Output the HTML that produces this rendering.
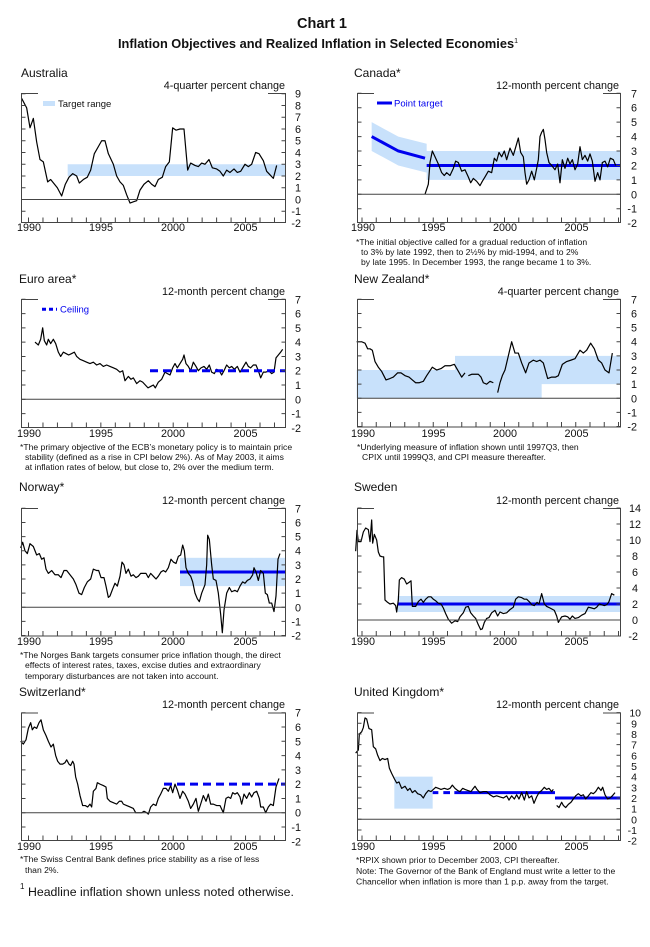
<!DOCTYPE html>
<html><head><meta charset="utf-8"><style>
body{margin:0;background:#fff}
svg{display:block}
text{font-family:"Liberation Sans",Arial,sans-serif;fill:#111}
.t{font-size:12px}
.s{font-size:10.8px}
.tl{font-size:10.8px}
.fn{font-size:8.6px}
.fr{fill:none;stroke:#444;stroke-width:1}
.z{stroke:#444;stroke-width:1}
.tk{stroke:#444;fill:none}
.ser{fill:none;stroke:#000;stroke-width:1.2;stroke-linejoin:round}
.band{fill:#c8e1fb}
.bl{fill:none;stroke:#0000ee;stroke-width:3}
.bd{fill:none;stroke:#0000ee;stroke-width:3;stroke-dasharray:8 5}
</style></head><body>
<svg width="650" height="947" viewBox="0 0 650 947" xmlns="http://www.w3.org/2000/svg">
<text x="322" y="28" text-anchor="middle" style="font-size:14.5px;font-weight:bold">Chart 1</text>
<text x="318" y="48" text-anchor="middle" style="font-size:12.8px;font-weight:bold">Inflation Objectives and Realized Inflation in Selected Economies<tspan dy="-5" style="font-size:7px;font-weight:normal">1</tspan></text>

<!-- ===== AUSTRALIA ===== -->
<g transform="translate(0,199.5) scale(0.33333,-11.75)">
<rect class="band" x="203" y="2" width="655" height="1"/>
<polyline class="ser" vector-effect="non-scaling-stroke" points="65,8.6 80,7.8 90,6.1 100,6.9 110,4.9 120,3.4 130,3.2 143,1.5 152,1.7 172,1.0 185,0.3 196,1.3 207,1.9 218,2.2 230,2.0 238,1.4 250,1.7 262,1.9 272,2.5 283,3.9 295,4.5 305,5.0 315,5.0 325,3.9 340,3.0 350,2.0 360,1.5 370,1.2 380,0.4 390,-0.3 400,-0.2 410,-0.1 420,0.8 432,1.3 445,1.6 455,1.3 465,1.1 475,1.7 487,1.9 497,2.8 508,3.2 518,6.1 528,5.9 540,6.0 552,6.0 563,2.5 572,3.1 585,2.9 595,2.8 605,3.1 615,3.0 627,3.4 637,2.7 650,2.6 660,2.4 670,2.0 680,2.5 690,2.3 702,2.6 712,2.3 722,2.4 735,3.0 745,2.8 755,3.0 767,4.0 777,3.9 790,3.3 800,2.4 810,2.1 820,1.8 830,2.9"/>
</g>
<line class="z" x1="21" x2="286" y1="199.5" y2="199.5"/>
<path class="fr" d="M38,93.5H21.5V222.5H285.5V93.5H268"/>
<line class="tk" x1="28" x2="286" y1="220" y2="220" stroke-width="5" stroke-dasharray="1 13.47"/>
<line class="tk" x1="23.5" x2="23.5" y1="93.2" y2="223" stroke-width="4" stroke-dasharray="1 10.75"/>
<line class="tk" x1="283.5" x2="283.5" y1="93.2" y2="223" stroke-width="4" stroke-dasharray="1 10.75"/>
<rect class="band" x="43" y="101" width="12" height="5"/>
<text class="s" x="58" y="107" style="font-size:9.5px">Target range</text>
<text class="t" x="21" y="77">Australia</text>
<text class="s" x="285" y="89" text-anchor="end">4-quarter percent change</text>
<text class="tl" text-anchor="end"><tspan x="301" y="97.7">9</tspan><tspan x="301" y="109.5">8</tspan><tspan x="301" y="121.2">7</tspan><tspan x="301" y="133">6</tspan><tspan x="301" y="144.7">5</tspan><tspan x="301" y="156.5">4</tspan><tspan x="301" y="168.2">3</tspan><tspan x="301" y="180">2</tspan><tspan x="301" y="191.7">1</tspan><tspan x="301" y="203.5">0</tspan><tspan x="301" y="215.2">-1</tspan><tspan x="301" y="227">-2</tspan></text>
<text class="tl" text-anchor="middle"><tspan x="29" y="231">1990</tspan><tspan x="101" y="231">1995</tspan><tspan x="173" y="231">2000</tspan><tspan x="245.5" y="231">2005</tspan></text>

<!-- ===== CANADA ===== -->
<g transform="translate(325,194.3) scale(0.33333,-14.43)">
<polygon class="band" points="140,3 220,2 305,1.5 305,1 885,1 885,3 305,3 305,3.5 220,4 140,5"/>
<polyline class="bl" vector-effect="non-scaling-stroke" points="140,4 220,3 300,2.5"/>
<polyline class="bl" vector-effect="non-scaling-stroke" points="305,2 885,2"/>
<polyline class="ser" vector-effect="non-scaling-stroke" points="300,0 310,0.7 315,2.2 322,3.0 330,2.6 340,2.1 350,1.5 358,1.3 365,1.5 375,1.3 385,1.8 392,2.3 400,2.2 410,1.6 420,1.7 430,1.2 437,0.8 445,1.1 455,0.9 465,0.6 472,0.9 480,1.2 490,1.6 500,1.5 508,2.5 515,2.3 522,2.9 530,2.6 538,3.0 545,2.4 555,3.2 565,2.7 575,3.5 580,3.9 587,2.9 595,2.6 600,1.5 605,0.7 612,1.0 620,1.6 628,1.0 635,1.8 640,2.4 645,4.0 650,4.3 655,4.5 660,3.8 665,2.9 672,2.2 680,2.0 690,1.7 698,2.1 705,0.8 712,2.4 720,1.8 728,2.5 735,2.1 742,2.4 750,1.7 758,2.1 765,3.3 772,2.4 780,2.7 788,2.3 795,2.8 802,2.3 810,0.9 818,1.5 825,1.0 832,2.2 840,2.3 848,1.9 856,2.5 865,2.4 872,2.0"/>
</g>
<line class="z" x1="357" x2="621" y1="194.3" y2="194.3"/>
<path class="fr" d="M374,93.5H357.5V222.5H620.5V93.5H603"/>
<line class="tk" x1="361.5" x2="621" y1="220" y2="220" stroke-width="5" stroke-dasharray="1 13.25"/>
<line class="tk" x1="359.5" x2="359.5" y1="92.8" y2="223" stroke-width="4" stroke-dasharray="1 13.43"/>
<line class="tk" x1="618.5" x2="618.5" y1="92.8" y2="223" stroke-width="4" stroke-dasharray="1 13.43"/>
<line class="bl" x1="377" x2="392" y1="103" y2="103"/>
<text class="s" x="394" y="106.5" style="font-size:9.5px;fill:#0000ee">Point target</text>
<text class="t" x="354" y="77">Canada*</text>
<text class="s" x="619" y="89" text-anchor="end">12-month percent change</text>
<text class="tl" text-anchor="end"><tspan x="637" y="97.3">7</tspan><tspan x="637" y="111.7">6</tspan><tspan x="637" y="126.1">5</tspan><tspan x="637" y="140.6">4</tspan><tspan x="637" y="155">3</tspan><tspan x="637" y="169.4">2</tspan><tspan x="637" y="183.9">1</tspan><tspan x="637" y="198.3">0</tspan><tspan x="637" y="212.7">-1</tspan><tspan x="637" y="227.2">-2</tspan></text>
<text class="tl" text-anchor="middle"><tspan x="363" y="231">1990</tspan><tspan x="433.5" y="231">1995</tspan><tspan x="505" y="231">2000</tspan><tspan x="576.5" y="231">2005</tspan></text>
<text class="fn"><tspan x="356" y="245">*The initial objective called for a gradual reduction of inflation</tspan><tspan x="361" y="255">to 3% by late 1992, then to 2½% by mid-1994, and to 2%</tspan><tspan x="361" y="265">by late 1995. In December 1993, the range became 1 to 3%.</tspan></text>

<!-- ===== EURO ===== -->
<g transform="translate(0,399.3) scale(0.33333,-14.29)">
<polyline class="ser" vector-effect="non-scaling-stroke" points="105,4.0 110,3.9 115,3.8 122,4.2 128,5.0 133,4.1 140,3.8 145,4.2 152,3.9 160,4.2 167,3.9 175,3.3 182,3.0 190,3.3 198,3.2 206,3.1 215,3.2 223,3.3 230,3.0 240,2.8 250,2.7 260,2.6 270,2.5 280,2.6 290,2.4 300,2.5 310,2.3 320,2.4 330,2.3 340,2.2 350,2.1 360,1.9 368,2.0 375,1.3 385,1.6 393,1.4 400,1.5 410,1.1 420,1.3 428,1.2 436,1.0 444,0.8 452,0.9 460,1.0 466,0.8 475,1.2 485,1.4 495,1.9 502,1.8 510,1.7 518,2.2 525,2.5 532,2.2 540,2.5 548,2.8 552,3.1 558,2.5 565,2.3 572,2.0 580,2.6 588,2.3 595,2.0 603,2.2 612,2.3 620,2.1 628,2.4 635,1.9 643,1.8 650,2.1 658,2.0 665,1.7 672,2.0 680,2.4 688,2.2 695,2.3 703,2.1 712,2.3 720,1.9 728,2.2 738,2.6 745,2.3 752,2.2 760,2.4 768,2.4 775,2.0 782,1.5 790,1.9 798,1.9 806,2.0 815,1.8 822,1.9 828,2.9 835,3.1 842,3.3 848,3.5"/>
<polyline class="bd" vector-effect="non-scaling-stroke" points="450,2 858,2"/>
</g>
<line class="z" x1="21" x2="286" y1="399.3" y2="399.3"/>
<path class="fr" d="M38,299.5H21.5V427.5H285.5V299.5H268"/>
<line class="tk" x1="28" x2="286" y1="425" y2="425" stroke-width="5" stroke-dasharray="1 13.47"/>
<line class="tk" x1="23.5" x2="23.5" y1="298.8" y2="428" stroke-width="4" stroke-dasharray="1 13.29"/>
<line class="tk" x1="283.5" x2="283.5" y1="298.8" y2="428" stroke-width="4" stroke-dasharray="1 13.29"/>
<line class="bd" x1="42" x2="57" y1="309.3" y2="309.3" style="stroke-dasharray:4 3"/>
<text class="s" x="60" y="312.5" style="font-size:9.5px;fill:#0000ee">Ceiling</text>
<text class="t" x="19" y="283">Euro area*</text>
<text class="s" x="285" y="295" text-anchor="end">12-month percent change</text>
<text class="tl" text-anchor="end"><tspan x="301" y="303.3">7</tspan><tspan x="301" y="317.6">6</tspan><tspan x="301" y="331.9">5</tspan><tspan x="301" y="346.1">4</tspan><tspan x="301" y="360.4">3</tspan><tspan x="301" y="374.7">2</tspan><tspan x="301" y="389">1</tspan><tspan x="301" y="403.3">0</tspan><tspan x="301" y="417.6">-1</tspan><tspan x="301" y="431.9">-2</tspan></text>
<text class="tl" text-anchor="middle"><tspan x="29" y="437">1990</tspan><tspan x="101" y="437">1995</tspan><tspan x="173" y="437">2000</tspan><tspan x="245.5" y="437">2005</tspan></text>
<text class="fn"><tspan x="20" y="450">*The primary objective of the ECB’s monetary policy is to maintain price</tspan><tspan x="25" y="460">stability (defined as a rise in CPI below 2%).  As of May 2003, it aims</tspan><tspan x="25" y="470">at inflation rates of below, but close to, 2% over the medium term.</tspan></text>

<!-- ===== NEW ZEALAND ===== -->
<g transform="translate(325,398.3) scale(0.33333,-14.14)">
<polygon class="band" points="95,0 650,0 650,1 885,1 885,3 390,3 390,2 95,2"/>
<polyline class="ser" vector-effect="non-scaling-stroke" points="95,4.0 110,4.0 120,3.9 128,3.5 135,3.5 142,3.4 150,2.6 160,2.2 170,1.9 183,1.3 195,1.4 205,1.5 218,1.8 228,1.8 240,1.6 252,1.5 262,1.3 272,1.1 283,1.1 295,1.2 305,1.6 322,2.2 335,2.0 348,2.1 360,2.3 375,2.3 388,2.4 398,2.0 410,1.5 420,1.8"/>
<polyline class="ser" vector-effect="non-scaling-stroke" points="430,1.6 440,1.7 460,1.7 468,1.5 475,1.1 485,1.0 495,1.2 505,1.1"/>
<polyline class="ser" vector-effect="non-scaling-stroke" points="518,0.4 525,1.1 532,1.6 540,2.0 550,3.0 560,4.0 570,3.2 580,3.2 590,2.5 602,1.8 612,2.5 625,2.7 635,2.6 645,2.7 655,2.5 668,1.4 680,1.5 692,1.5 700,1.6 712,2.4 725,2.6 738,2.7 750,2.8 765,3.4 775,3.2 785,3.4 797,3.9 808,3.5 820,2.7 830,2.5 840,2.0 852,1.8 862,3.2"/>
</g>
<line class="z" x1="357" x2="621" y1="398.3" y2="398.3"/>
<path class="fr" d="M374,299.5H357.5V427H620.5V299.5H603"/>
<line class="tk" x1="361.5" x2="621" y1="424.5" y2="424.5" stroke-width="5" stroke-dasharray="1 13.25"/>
<line class="tk" x1="359.5" x2="359.5" y1="298.8" y2="427.5" stroke-width="4" stroke-dasharray="1 13.14"/>
<line class="tk" x1="618.5" x2="618.5" y1="298.8" y2="427.5" stroke-width="4" stroke-dasharray="1 13.14"/>
<text class="t" x="354" y="283">New Zealand*</text>
<text class="s" x="619" y="295" text-anchor="end">4-quarter percent change</text>
<text class="tl" text-anchor="end"><tspan x="637" y="303.3">7</tspan><tspan x="637" y="317.5">6</tspan><tspan x="637" y="331.6">5</tspan><tspan x="637" y="345.7">4</tspan><tspan x="637" y="359.9">3</tspan><tspan x="637" y="374">2</tspan><tspan x="637" y="388.2">1</tspan><tspan x="637" y="402.3">0</tspan><tspan x="637" y="416.4">-1</tspan><tspan x="637" y="430.6">-2</tspan></text>
<text class="tl" text-anchor="middle"><tspan x="363" y="437">1990</tspan><tspan x="433.5" y="437">1995</tspan><tspan x="505" y="437">2000</tspan><tspan x="576.5" y="437">2005</tspan></text>
<text class="fn"><tspan x="357" y="450">*Underlying measure of inflation shown until 1997Q3, then</tspan><tspan x="362" y="460">CPIX until 1999Q3, and CPI measure thereafter.</tspan></text>

<!-- ===== NORWAY ===== -->
<g transform="translate(0,607.3) scale(0.33333,-14.14)">
<rect class="band" x="540" y="1.5" width="318" height="2"/>
<polyline class="bl" vector-effect="non-scaling-stroke" points="540,2.5 858,2.5"/>
<polyline class="ser" vector-effect="non-scaling-stroke" points="62,4.2 68,4.6 75,4.0 82,3.8 90,4.5 100,4.3 110,3.7 118,3.8 125,3.4 132,3.5 138,2.7 145,2.4 155,2.6 165,2.3 175,2.3 183,2.1 192,2.6 200,2.6 210,2.3 220,2.0 228,1.6 237,1.0 245,0.9 253,1.4 262,1.8 272,2.0 280,2.7 290,2.6 296,2.6 303,2.1 312,2.1 318,1.5 325,0.7 330,0.8 338,1.3 345,1.7 352,1.5 360,2.2 366,3.2 372,3.0 378,2.4 385,2.7 393,2.2 400,2.3 408,2.1 415,2.2 422,2.4 430,2.4 438,2.4 445,2.1 452,2.4 460,2.2 468,2.0 475,2.2 483,2.5 490,2.6 497,2.5 505,2.8 513,3.4 520,3.2 528,3.1 535,3.6 542,3.7 548,4.4 553,4.0 558,2.8 565,2.4 572,2.2 578,1.8 585,1.0 592,0.6 598,0.4 605,1.0 610,1.3 615,1.6 620,3.0 623,5.1 628,4.8 635,3.0 640,2.0 648,1.9 655,1.0 662,-0.5 667,-1.8 672,-0.2 680,1.0 688,1.4 695,1.1 705,1.2 712,1.1 720,1.5 728,1.8 735,1.7 742,1.9 750,2.0 758,2.3 762,2.8 768,2.5 775,1.9 782,2.6 790,2.4 796,1.0 802,0.9 808,0.3 815,0.3 822,-0.3 828,0.8 834,3.4 840,3.8"/>
</g>
<line class="z" x1="21" x2="286" y1="607.3" y2="607.3"/>
<path class="fr" d="M38,508.5H21.5V636H285.5V508.5H268"/>
<line class="tk" x1="28" x2="286" y1="633.5" y2="633.5" stroke-width="5" stroke-dasharray="1 13.47"/>
<line class="tk" x1="23.5" x2="23.5" y1="507.8" y2="636.5" stroke-width="4" stroke-dasharray="1 13.14"/>
<line class="tk" x1="283.5" x2="283.5" y1="507.8" y2="636.5" stroke-width="4" stroke-dasharray="1 13.14"/>
<text class="t" x="19" y="491">Norway*</text>
<text class="s" x="285" y="504" text-anchor="end">12-month percent change</text>
<text class="tl" text-anchor="end"><tspan x="301" y="512.3">7</tspan><tspan x="301" y="526.5">6</tspan><tspan x="301" y="540.6">5</tspan><tspan x="301" y="554.7">4</tspan><tspan x="301" y="568.9">3</tspan><tspan x="301" y="583">2</tspan><tspan x="301" y="597.2">1</tspan><tspan x="301" y="611.3">0</tspan><tspan x="301" y="625.4">-1</tspan><tspan x="301" y="639.6">-2</tspan></text>
<text class="tl" text-anchor="middle"><tspan x="29" y="645">1990</tspan><tspan x="101" y="645">1995</tspan><tspan x="173" y="645">2000</tspan><tspan x="245.5" y="645">2005</tspan></text>
<text class="fn"><tspan x="20" y="658">*The Norges Bank targets consumer price inflation though, the direct</tspan><tspan x="25" y="668">effects of interest rates, taxes, excise duties and extraordinary</tspan><tspan x="25" y="679">temporary disturbances are not taken into account.</tspan></text>

<!-- ===== SWEDEN ===== -->
<g transform="translate(325,620) scale(0.33333,-8)">
<rect class="band" x="218" y="1" width="667" height="2"/>
<polyline class="bl" vector-effect="non-scaling-stroke" points="218,2 885,2"/>
<polyline class="ser" vector-effect="non-scaling-stroke" points="92,8.6 96,11.2 100,9.8 108,9.8 115,11.0 122,11.5 130,11.3 135,9.8 140,12.5 143,9.6 148,10.7 155,10.0 160,8.5 165,8.0 172,7.9 176,7.9 180,2.5 188,2.2 195,2.0 205,2.1 212,1.8 215,1.0 220,2.5 223,5.0 230,5.3 238,5.1 245,4.5 252,4.7 258,4.9 262,1.7 272,1.7 280,2.3 288,2.6 295,2.2 302,2.6 310,2.9 318,2.9 325,2.6 332,2.4 340,2.1 348,2.0 355,1.5 362,0.8 370,0.1 380,-0.4 390,-0.1 398,-0.2 405,0.4 415,0.9 422,1.6 430,1.7 437,0.9 445,0.5 452,0.2 460,-0.6 467,-1.2 472,-1.1 478,-0.3 485,0.2 492,0.3 500,0.9 510,1.2 518,0.5 525,1.0 535,0.8 545,0.9 555,1.3 565,1.6 572,2.6 580,2.9 590,2.8 598,2.6 605,2.6 615,2.2 620,1.9 628,1.8 636,2.2 642,2.0 650,3.3 658,2.0 665,1.7 675,1.5 688,1.2 695,0.5 700,-0.3 710,0.4 720,0.5 728,0.4 735,0.1 742,0.5 750,0.2 760,0.3 770,0.6 780,0.8 790,1.6 800,1.5 808,1.4 815,1.6 823,2.0 830,1.9 838,1.8 845,1.9 852,2.3 860,3.3 868,3.1"/>
</g>
<line class="z" x1="357" x2="621" y1="620" y2="620"/>
<path class="fr" d="M374,508.5H357.5V636H620.5V508.5H603"/>
<line class="tk" x1="361.5" x2="621" y1="633.5" y2="633.5" stroke-width="5" stroke-dasharray="1 13.25"/>
<line class="tk" x1="359.5" x2="359.5" y1="507.5" y2="636.5" stroke-width="4" stroke-dasharray="1 15"/>
<line class="tk" x1="618.5" x2="618.5" y1="507.5" y2="636.5" stroke-width="4" stroke-dasharray="1 15"/>
<text class="t" x="354" y="491">Sweden</text>
<text class="s" x="619" y="504" text-anchor="end">12-month percent change</text>
<text class="tl" text-anchor="end"><tspan x="641" y="512">14</tspan><tspan x="641" y="528">12</tspan><tspan x="641" y="544">10</tspan><tspan x="638" y="560">8</tspan><tspan x="638" y="576">6</tspan><tspan x="638" y="592">4</tspan><tspan x="638" y="608">2</tspan><tspan x="638" y="624">0</tspan><tspan x="638" y="640">-2</tspan></text>
<text class="tl" text-anchor="middle"><tspan x="363" y="645">1990</tspan><tspan x="433.5" y="645">1995</tspan><tspan x="505" y="645">2000</tspan><tspan x="576.5" y="645">2005</tspan></text>

<!-- ===== SWITZERLAND ===== -->
<g transform="translate(0,812.7) scale(0.33333,-14.29)">
<polyline class="ser" vector-effect="non-scaling-stroke" points="62,5.0 70,4.8 78,5.1 85,5.9 92,6.3 97,5.8 103,6.0 110,5.9 117,6.3 123,6.5 130,5.8 138,5.4 145,5.0 153,4.6 160,4.8 167,4.0 173,3.6 180,3.4 188,3.4 195,3.5 200,3.7 207,3.4 212,3.3 218,3.6 222,3.4 227,2.5 233,2.0 240,1.2 248,0.5 256,0.5 263,0.4 270,0.6 275,0.4 280,1.5 288,1.7 292,2.1 300,2.0 310,1.9 318,1.8 322,1.0 330,0.8 340,0.7 350,0.6 358,0.8 365,0.8 370,0.6 380,0.5 390,0.4 400,0.3 407,0.0 415,0.0 425,0.0 432,0.1 440,0.0 445,-0.1 452,0.4 460,0.6 468,0.5 475,1.0 482,1.3 490,1.7 498,1.7 505,1.5 512,1.9 518,1.4 525,2.0 532,1.6 540,1.0 548,1.5 555,1.3 565,0.8 572,0.3 580,0.6 588,1.0 595,0.1 602,0.6 610,1.2 618,0.8 625,1.3 632,0.6 640,0.6 650,0.5 660,0.5 670,0.0 678,1.0 685,1.1 692,1.0 698,1.4 705,1.3 712,1.4 720,1.1 725,0.6 732,1.3 740,1.0 748,1.4 755,1.1 762,1.4 770,1.5 778,1.0 782,0.4 790,0.4 797,0.0 805,0.4 812,0.6 820,0.5 828,1.8 837,2.4"/>
<polyline class="bd" vector-effect="non-scaling-stroke" points="492,2 858,2"/>
</g>
<line class="z" x1="21" x2="286" y1="812.7" y2="812.7"/>
<path class="fr" d="M38,713H21.5V840.5H285.5V713H268"/>
<line class="tk" x1="28" x2="286" y1="838" y2="838" stroke-width="5" stroke-dasharray="1 13.47"/>
<line class="tk" x1="23.5" x2="23.5" y1="712.2" y2="841" stroke-width="4" stroke-dasharray="1 13.29"/>
<line class="tk" x1="283.5" x2="283.5" y1="712.2" y2="841" stroke-width="4" stroke-dasharray="1 13.29"/>
<text class="t" x="19" y="696">Switzerland*</text>
<text class="s" x="285" y="708" text-anchor="end">12-month percent change</text>
<text class="tl" text-anchor="end"><tspan x="301" y="716.7">7</tspan><tspan x="301" y="731">6</tspan><tspan x="301" y="745.3">5</tspan><tspan x="301" y="759.5">4</tspan><tspan x="301" y="773.8">3</tspan><tspan x="301" y="788.1">2</tspan><tspan x="301" y="802.4">1</tspan><tspan x="301" y="816.7">0</tspan><tspan x="301" y="831">-1</tspan><tspan x="301" y="845.3">-2</tspan></text>
<text class="tl" text-anchor="middle"><tspan x="29" y="850">1990</tspan><tspan x="101" y="850">1995</tspan><tspan x="173" y="850">2000</tspan><tspan x="245.5" y="850">2005</tspan></text>
<text class="fn"><tspan x="20" y="862">*The Swiss Central Bank defines price stability as a rise of less</tspan><tspan x="25" y="873">than 2%.</tspan></text>
<text x="20" y="889" style="font-size:8px">1</text>
<text x="28" y="896" style="font-size:12.3px">Headline inflation shown unless noted otherwise.</text>

<!-- ===== UK ===== -->
<g transform="translate(325,819.3) scale(0.33333,-10.67)">
<rect class="band" x="208" y="1" width="115" height="3"/>
<polyline class="bl" vector-effect="non-scaling-stroke" points="323,2.5 340,2.5"/>
<polyline class="bl" vector-effect="non-scaling-stroke" points="355,2.5 375,2.5"/>
<polyline class="bl" vector-effect="non-scaling-stroke" points="388,2.5 690,2.5"/>
<polyline class="bl" vector-effect="non-scaling-stroke" points="690,2 885,2"/>
<polyline class="ser" vector-effect="non-scaling-stroke" points="92,6.2 100,6.5 103,8.0 110,8.2 115,8.6 120,9.5 125,9.4 132,8.5 140,8.4 145,6.8 152,6.6 158,6.0 165,5.5 172,5.7 180,5.6 188,5.7 193,4.8 200,4.3 208,3.8 215,3.4 222,3.5 230,2.9 240,3.1 248,2.7 255,2.9 262,2.5 270,2.7 278,2.4 287,2.3 295,2.0 302,2.4 310,2.7 318,2.6 325,2.8 332,3.0 340,2.9 348,2.8 358,2.9 368,2.8 375,2.9 382,3.2 390,2.9 398,2.7 405,2.6 413,2.9 420,2.8 428,2.7 438,2.6 445,2.9 450,3.1 456,2.8 465,2.5 475,2.6 485,2.6 495,2.3 505,2.1 515,2.2 525,2.1 535,2.0 545,2.2 552,1.8 560,2.2 568,1.9 575,2.3 582,1.9 590,2.5 598,1.8 605,2.6 612,2.0 620,2.2 627,1.5 635,2.1 642,2.5 650,2.7 658,3.0 665,2.8 672,2.9 680,2.6 685,2.8"/>
<polyline class="ser" vector-effect="non-scaling-stroke" points="695,1.3 702,1.1 710,1.6 715,1.3 722,1.1 730,1.4 738,1.6 745,1.9 752,2.2 760,2.4 768,2.2 775,2.3 782,1.9 790,2.2 798,2.5 805,2.4 812,2.6 820,3.0 828,2.7 833,3.0 840,2.3 848,1.9 855,2.0 862,2.2 870,2.5"/>
</g>
<line class="z" x1="357" x2="621" y1="819.3" y2="819.3"/>
<path class="fr" d="M374,713H357.5V840.5H620.5V713H603"/>
<line class="tk" x1="361.5" x2="621" y1="838" y2="838" stroke-width="5" stroke-dasharray="1 13.25"/>
<line class="tk" x1="359.5" x2="359.5" y1="712.1" y2="841" stroke-width="4" stroke-dasharray="1 9.67"/>
<line class="tk" x1="618.5" x2="618.5" y1="712.1" y2="841" stroke-width="4" stroke-dasharray="1 9.67"/>
<text class="t" x="354" y="696">United Kingdom*</text>
<text class="s" x="619" y="708" text-anchor="end">12-month percent change</text>
<text class="tl" text-anchor="end" style="font-size:10.5px"><tspan x="641" y="716.6">10</tspan><tspan x="637" y="727.3">9</tspan><tspan x="637" y="737.9">8</tspan><tspan x="637" y="748.6">7</tspan><tspan x="637" y="759.3">6</tspan><tspan x="637" y="770">5</tspan><tspan x="637" y="780.6">4</tspan><tspan x="637" y="791.3">3</tspan><tspan x="637" y="802">2</tspan><tspan x="637" y="812.6">1</tspan><tspan x="637" y="823.3">0</tspan><tspan x="637" y="834">-1</tspan><tspan x="637" y="844.6">-2</tspan></text>
<text class="tl" text-anchor="middle"><tspan x="363" y="850">1990</tspan><tspan x="433.5" y="850">1995</tspan><tspan x="505" y="850">2000</tspan><tspan x="576.5" y="850">2005</tspan></text>
<text class="fn"><tspan x="356" y="863">*RPIX shown prior to December 2003, CPI thereafter.</tspan><tspan x="356" y="874">Note: The Governor of the Bank of England must write a letter to the</tspan><tspan x="356" y="884.5">Chancellor when inflation is more than 1 p.p. away from the target.</tspan></text>
</svg>
</body></html>
